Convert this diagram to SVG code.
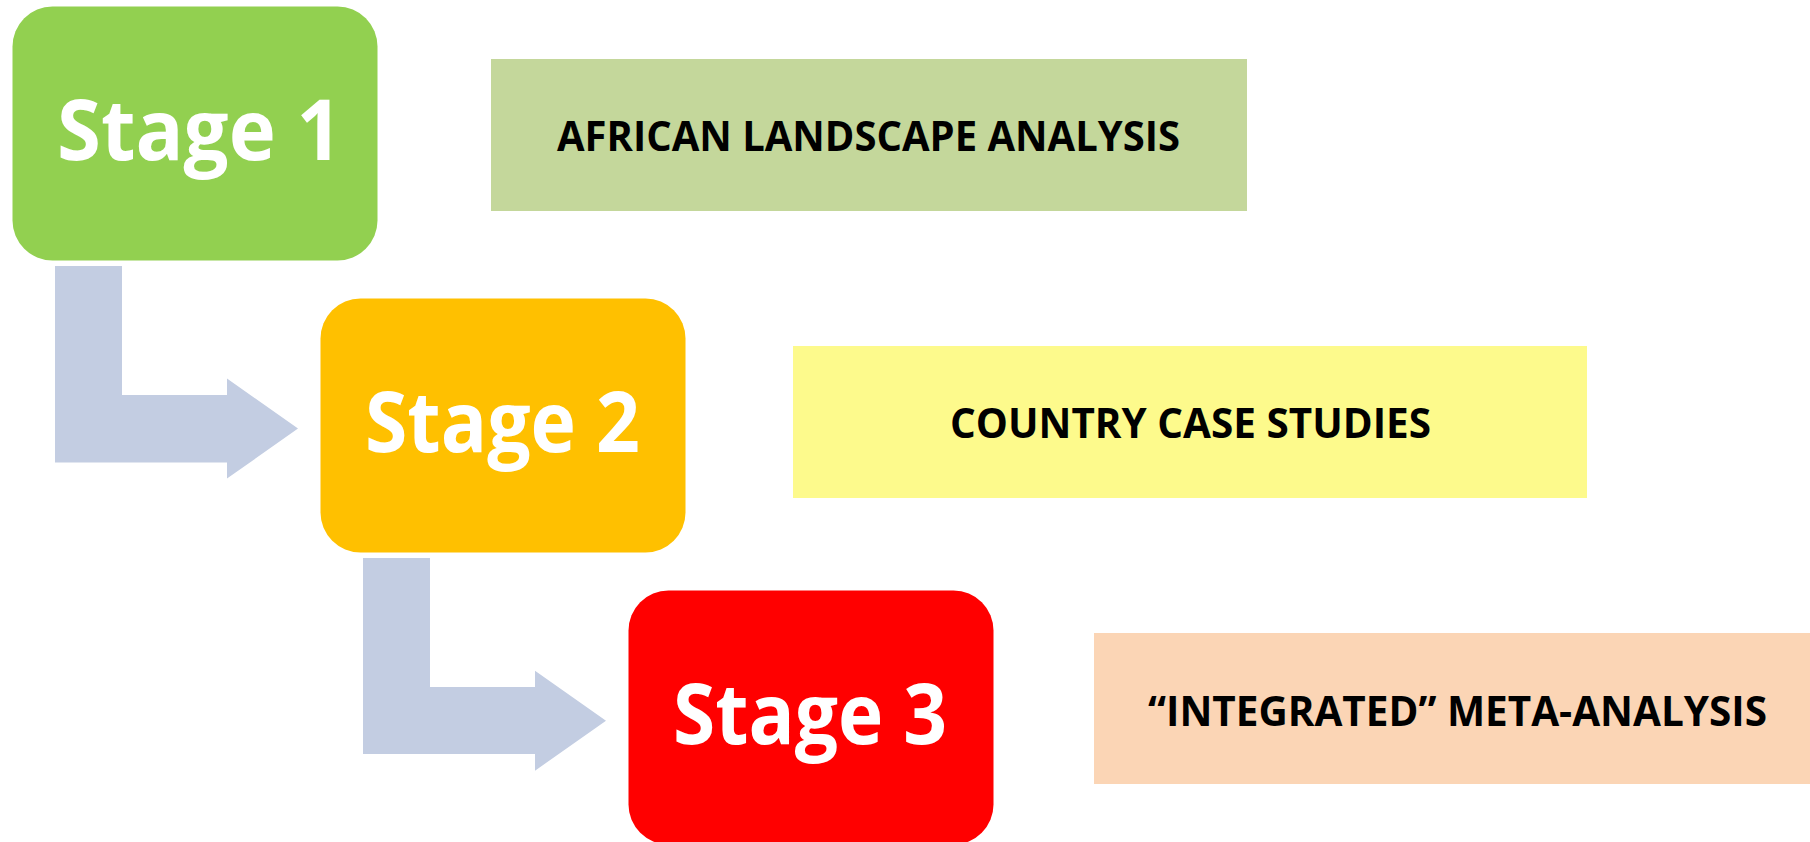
<svg xmlns="http://www.w3.org/2000/svg" width="1810" height="842" viewBox="0 0 1810 842">
<style>
.stage{font-family:"Open Sans","Liberation Sans",sans-serif;font-weight:bold;font-size:84px;fill:#FFFFFF;}
.lbl{font-family:"Open Sans","Liberation Sans",sans-serif;font-weight:bold;font-size:42px;fill:#000000;}
.arrow{fill:#C3CDE2;}
</style>
<rect width="1810" height="842" fill="#FFFFFF"/>
<g id="connectors">
<path class="arrow" d="M55,266 H122 V395 H227 V378.6 L298,428.6 L227,478.6 V462.5 H55 Z"/>
<path class="arrow" d="M363,558 H430 V687 H535 V670.7 L606,720.7 L535,770.7 V754 H363 Z"/>
</g>
<g id="stage1">
<rect x="12.5" y="6.5" width="365" height="254" rx="40" ry="40" fill="#92D050"/>
<text class="stage" x="57" y="160" textLength="285" lengthAdjust="spacingAndGlyphs">Stage 1</text>
</g>
<g id="stage2">
<rect x="320.5" y="298.5" width="365" height="254" rx="40" ry="40" fill="#FFC000"/>
<text class="stage" x="365" y="452" textLength="275" lengthAdjust="spacingAndGlyphs">Stage 2</text>
</g>
<g id="stage3">
<rect x="628.5" y="590.5" width="365" height="254" rx="40" ry="40" fill="#FF0000"/>
<text class="stage" x="673" y="744" textLength="274" lengthAdjust="spacingAndGlyphs">Stage 3</text>
</g>
<g id="box1">
<rect x="491" y="59" width="756" height="152" fill="#C4D79B"/>
<text class="lbl" x="557" y="150.7" textLength="623" lengthAdjust="spacingAndGlyphs">AFRICAN LANDSCAPE ANALYSIS</text>
</g>
<g id="box2">
<rect x="793" y="346" width="794" height="152" fill="#FDFA8C"/>
<text class="lbl" x="950" y="438.3" textLength="481" lengthAdjust="spacingAndGlyphs">COUNTRY CASE STUDIES</text>
</g>
<g id="box3">
<rect x="1094" y="633" width="726" height="151" fill="#FBD5B5"/>
<text class="lbl" x="1148" y="725.7" textLength="619" lengthAdjust="spacingAndGlyphs">“INTEGRATED” META-ANALYSIS</text>
</g>
</svg>
